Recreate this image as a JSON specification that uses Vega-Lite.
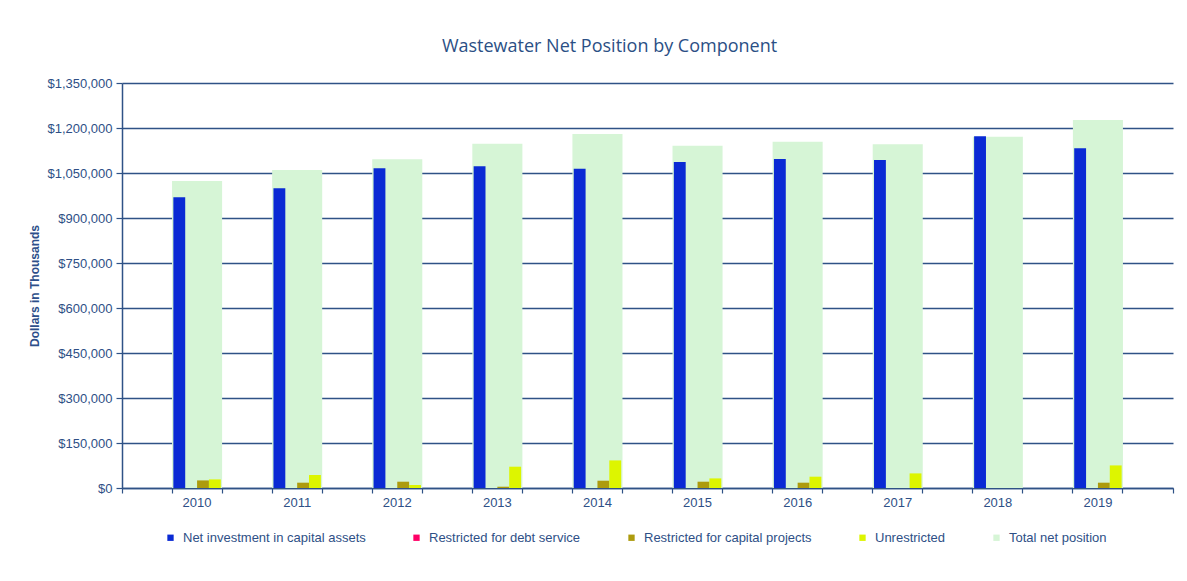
{
  "$schema": "https://vega.github.io/schema/vega-lite/v6.json",
  "autosize": {"type": "none"},
  "width": 1051,
  "height": 405,
  "padding": {"left": 122, "top": 83, "right": 14, "bottom": 93},
  "background": "white",
  "config": {
    "view": {"stroke": null},
    "font": "Liberation Sans"
  },
  "title": {
    "text": "Wastewater Net Position by Component",
    "font": "Open Sans",
    "fontSize": 18,
    "fontWeight": "normal",
    "color": "#2B4F85",
    "anchor": "middle",
    "dx": -38,
    "offset": 21
  },
  "data": {
    "values": [
      {"year": "2010", "component": "Net investment in capital assets", "value": 969000},
      {"year": "2010", "component": "Restricted for debt service", "value": 0},
      {"year": "2010", "component": "Restricted for capital projects", "value": 25300},
      {"year": "2010", "component": "Unrestricted", "value": 28700},
      {"year": "2010", "component": "Total net position", "value": 1023000},
      {"year": "2011", "component": "Net investment in capital assets", "value": 999000},
      {"year": "2011", "component": "Restricted for debt service", "value": 0},
      {"year": "2011", "component": "Restricted for capital projects", "value": 17700},
      {"year": "2011", "component": "Unrestricted", "value": 43300},
      {"year": "2011", "component": "Total net position", "value": 1060000},
      {"year": "2012", "component": "Net investment in capital assets", "value": 1065500},
      {"year": "2012", "component": "Restricted for debt service", "value": 0},
      {"year": "2012", "component": "Restricted for capital projects", "value": 21000},
      {"year": "2012", "component": "Unrestricted", "value": 10000},
      {"year": "2012", "component": "Total net position", "value": 1096000},
      {"year": "2013", "component": "Net investment in capital assets", "value": 1072200},
      {"year": "2013", "component": "Restricted for debt service", "value": 0},
      {"year": "2013", "component": "Restricted for capital projects", "value": 4300},
      {"year": "2013", "component": "Unrestricted", "value": 71000},
      {"year": "2013", "component": "Total net position", "value": 1147800},
      {"year": "2014", "component": "Net investment in capital assets", "value": 1064400},
      {"year": "2014", "component": "Restricted for debt service", "value": 0},
      {"year": "2014", "component": "Restricted for capital projects", "value": 24300},
      {"year": "2014", "component": "Unrestricted", "value": 92000},
      {"year": "2014", "component": "Total net position", "value": 1180000},
      {"year": "2015", "component": "Net investment in capital assets", "value": 1086700},
      {"year": "2015", "component": "Restricted for debt service", "value": 0},
      {"year": "2015", "component": "Restricted for capital projects", "value": 21000},
      {"year": "2015", "component": "Unrestricted", "value": 32000},
      {"year": "2015", "component": "Total net position", "value": 1141000},
      {"year": "2016", "component": "Net investment in capital assets", "value": 1096700},
      {"year": "2016", "component": "Restricted for debt service", "value": 0},
      {"year": "2016", "component": "Restricted for capital projects", "value": 17700},
      {"year": "2016", "component": "Unrestricted", "value": 37700},
      {"year": "2016", "component": "Total net position", "value": 1154400},
      {"year": "2017", "component": "Net investment in capital assets", "value": 1093300},
      {"year": "2017", "component": "Restricted for debt service", "value": 0},
      {"year": "2017", "component": "Restricted for capital projects", "value": 0},
      {"year": "2017", "component": "Unrestricted", "value": 48700},
      {"year": "2017", "component": "Total net position", "value": 1145600},
      {"year": "2018", "component": "Net investment in capital assets", "value": 1172500},
      {"year": "2018", "component": "Restricted for debt service", "value": 0},
      {"year": "2018", "component": "Restricted for capital projects", "value": 0},
      {"year": "2018", "component": "Unrestricted", "value": 0},
      {"year": "2018", "component": "Total net position", "value": 1171000},
      {"year": "2019", "component": "Net investment in capital assets", "value": 1132200},
      {"year": "2019", "component": "Restricted for debt service", "value": 0},
      {"year": "2019", "component": "Restricted for capital projects", "value": 17700},
      {"year": "2019", "component": "Unrestricted", "value": 75300},
      {"year": "2019", "component": "Total net position", "value": 1226700}
    ]
  },
  "encoding": {
    "x": {
      "field": "year",
      "type": "nominal",
      "sort": null,
      "scale": {
        "domain": ["_0", "2010", "_1", "2011", "_2", "2012", "_3", "2013", "_4", "2014", "_5", "2015", "_6", "2016", "_7", "2017", "_8", "2018", "_9", "2019", "_10"],
        "paddingInner": 0,
        "paddingOuter": 0
      },
      "axis": {
        "title": null,
        "labelAngle": 0,
        "labelExpr": "indexof(datum.label, '_') === 0 ? '' : datum.label",
        "bandPosition": 1,
        "tickExtra": true,
        "labelFontSize": 13,
        "labelColor": "#2E4F86",
        "labelPadding": 3,
        "tickSize": 5,
        "tickColor": "#2F5286",
        "tickWidth": 1.2,
        "domainColor": "#2F5286",
        "domainWidth": 1.5,
        "grid": false
      }
    },
    "y": {
      "field": "value",
      "type": "quantitative",
      "scale": {"domain": [0, 1350000], "nice": false},
      "axis": {
        "title": "Dollars in Thousands",
        "titleFontSize": 12,
        "titleFontWeight": "bold",
        "titleColor": "#2D4F8A",
        "titlePadding": 5,
        "values": [0, 150000, 300000, 450000, 600000, 750000, 900000, 1050000, 1200000, 1350000],
        "format": "$,.0f",
        "labelFontSize": 13,
        "labelColor": "#2E4F86",
        "labelPadding": 4,
        "tickSize": 6,
        "tickColor": "#2F5286",
        "tickWidth": 1.2,
        "domainColor": "#2F5286",
        "domainWidth": 1.5,
        "gridColor": "#2F5286",
        "gridWidth": 1.3
      }
    },
    "color": {
      "field": "component",
      "type": "nominal",
      "scale": {
        "domain": ["Net investment in capital assets", "Restricted for debt service", "Restricted for capital projects", "Unrestricted", "Total net position"],
        "range": ["#0A2AD4", "#FF0066", "#AD9B0E", "#DDF500", "#D6F5D6"]
      },
      "legend": {
        "title": null,
        "orient": "none",
        "direction": "horizontal",
        "columns": 5,
        "legendX": 42,
        "legendY": 448,
        "symbolType": "square",
        "symbolSize": 40,
        "symbolStrokeWidth": 0,
        "labelFontSize": 13,
        "labelColor": "#2E4F86",
        "labelOffset": 6,
        "labelLimit": 400,
        "columnPadding": 44
      }
    }
  },
  "layer": [
    {
      "transform": [{"filter": "datum.component === 'Total net position'"}],
      "mark": {"type": "bar"}
    },
    {
      "transform": [{"filter": "datum.component !== 'Total net position'"}],
      "mark": {"type": "bar"},
      "encoding": {
        "xOffset": {
          "field": "component",
          "type": "nominal",
          "scale": {
            "domain": ["Net investment in capital assets", "Restricted for debt service", "Restricted for capital projects", "Unrestricted"],
            "paddingInner": 0,
            "paddingOuter": 0.11
          }
        }
      }
    }
  ]
}
